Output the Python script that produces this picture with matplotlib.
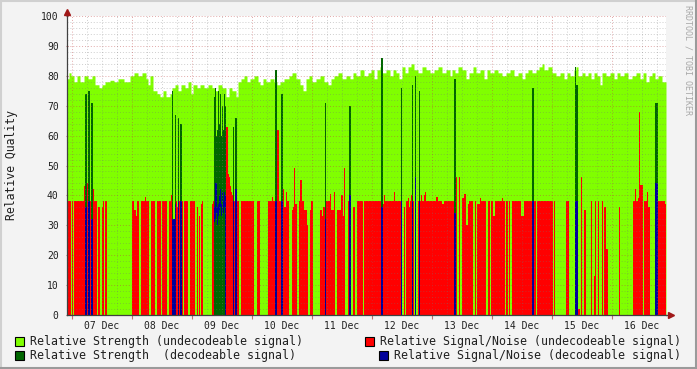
import numpy as np
import pandas as pd
import matplotlib
matplotlib.use("Agg")
import matplotlib.pyplot as plt
import matplotlib.dates as mdates
from matplotlib.patches import Rectangle
from matplotlib.lines import Line2D

nan = np.nan

# one sample every 24 minutes, first one on 6 Dec 22:00
start = "2010-12-06 22:00"
step = "24min"
n_samples = 599

# every series is a list of (sample index, value); value holds until next entry
strength_undec = [
    (0, 79), (2, 81), (4, 80), (7, 78), (10, 80), (13, 78), (17, 80), (21, 79), (25, 80), (28, 77),
    (32, 76), (35, 77), (38, 78), (43, 78.5), (47, 78), (51, 79), (57, 78), (63, 80), (67, 81), (71, 80),
    (75, 81), (79, 79), (81, 77), (83, 80), (86, 75), (90, 74), (93, 73), (96, 75), (99, 73), (103, 74),
    (105, 76), (108, 77), (111, 75), (114, 77), (118, 76), (121, 78), (124, 74), (126, 77), (130, 76), (133, 77),
    (137, 76), (141, 77), (145, 76), (148, 75), (151, 77), (155, 76), (159, 73), (162, 76), (165, 75), (169, 73),
    (171, 78), (174, 79), (177, 80), (180, 78), (183, 79), (187, 80), (191, 78), (193, 77), (196, 79), (199, 78),
    (203, 79), (207, 78), (210, 77), (213, 78), (217, 79), (222, 80), (225, 81), (229, 79), (233, 77), (236, 75),
    (239, 79), (242, 80), (245, 78), (249, 79), (253, 80), (257, 78), (261, 77), (264, 79), (267, 80), (271, 81),
    (275, 79), (279, 80), (283, 79), (286, 81), (289, 80), (293, 82), (297, 80), (301, 81), (304, 82), (307, 79),
    (310, 82), (313, 83), (315, 81), (319, 82), (323, 80), (326, 82), (329, 81), (332, 79), (335, 83), (338, 81),
    (341, 83), (344, 84), (347, 82), (351, 81), (355, 83), (359, 82), (363, 81), (367, 82), (371, 83), (375, 81),
    (379, 82), (383, 80), (385, 82), (388, 81), (391, 83), (395, 82), (399, 79), (402, 81), (406, 83), (409, 81),
    (413, 82), (417, 79), (420, 82), (423, 81), (427, 82), (431, 81), (435, 80), (439, 81), (443, 82), (447, 80),
    (451, 81), (455, 79), (458, 81), (461, 82), (465, 81), (469, 82), (472, 83), (475, 84), (477, 82), (481, 83),
    (485, 81), (489, 80), (493, 81), (497, 79), (500, 81), (503, 80), (507, 82), (509, 83), (511, 80), (515, 81),
    (518, 80), (521, 81), (524, 79), (527, 81), (530, 80), (533, 77), (535, 81), (539, 80), (543, 81), (547, 79),
    (550, 81), (553, 80), (557, 81), (561, 79), (565, 80), (569, 81), (573, 79), (576, 81), (579, 78), (582, 80),
    (585, 81), (588, 79), (591, 80), (595, 78),
]

strength_dec = [
    (0, nan), (18, 74), (20, nan), (21, 75), (23, nan), (24, 71), (26, nan),
    (105, 75), (106, nan), (108, 67), (109, nan), (111, 66), (112, nan), (113, 64), (115, nan),
    (147, 73), (148, 76), (149, 60), (150, 62), (151, 75), (152, 64), (153, 74), (154, 60), (155, 70),
    (156, 62), (157, 74), (158, 70), (159, nan), (166, 63), (167, nan), (168, 66), (170, nan),
    (208, 82), (210, nan), (214, 74), (216, nan), (258, 71), (259, nan), (282, 70), (284, nan),
    (314, 86), (316, nan), (334, 76), (335, nan), (345, 77), (346, nan), (348, 80), (349, nan),
    (352, 75), (353, nan), (387, 79), (389, nan), (465, 76), (467, nan),
    (508, 83), (509, 77), (511, nan), (588, 71), (591, nan),
]

sn_undec = [
    (0, 38), (4, nan), (5, 38), (6, nan), (7, 38), (17, 43), (18, nan), (20, 44), (21, nan), (23, 38),
    (24, nan), (26, 42), (27, 38), (30, nan), (31, 36), (33, nan), (35, 36), (36, 38), (37, nan), (38, 38),
    (40, nan), (65, 38), (67, 35), (69, 33), (70, 38), (72, nan), (74, 38), (78, 39.5), (79, 38), (82, nan),
    (84, 38), (88, nan), (90, 38), (94, nan), (95, 38), (100, nan), (102, 38), (104, 40), (105, nan), (109, 38),
    (110, 36), (111, nan), (112, 38), (113, nan), (115, 38), (116, nan), (117, 38), (121, nan), (123, 38), (128, nan),
    (130, 36), (131, nan), (132, 33), (133, nan), (134, 37), (135, 38), (136, nan), (145, 37), (146, 38), (147, nan),
    (159, 63), (161, 47), (162, 46), (163, 43), (164, 41), (165, 40), (166, nan), (167, 38), (168, nan), (170, 38),
    (172, nan), (174, 38), (187, nan), (190, 38), (193, nan), (201, 38), (205, 39.5), (206, 38), (208, nan), (210, 62),
    (212, 38), (214, nan), (216, 42), (217, 36), (219, 41), (220, 38), (222, nan), (225, 35), (226, 36), (227, 49),
    (228, 37), (230, nan), (232, 38), (233, 45), (235, 38), (237, 35), (240, 30), (241, nan), (243, 35), (244, 38),
    (246, nan), (253, 35), (255, 33), (256, 36), (258, nan), (259, 38), (263, 40.5), (264, 35), (267, 41), (268, nan),
    (270, 35), (274, 40), (276, 33), (277, 49), (278, nan), (281, 38), (282, nan), (286, 36), (288, nan), (290, 38),
    (296, nan), (297, 38), (314, nan), (316, 37), (317, 40), (318, 38), (327, 41), (328, 38), (334, nan), (337, 36),
    (338, nan), (339, 38), (341, 39), (342, 36), (343, 38), (344, 40), (345, nan), (346, 38), (347, nan), (351, 38),
    (352, nan), (353, 38), (354, 40), (355, 38), (357, 40), (358, 41), (359, 38), (369, 39.5), (371, 38), (375, 37),
    (377, 38), (387, nan), (389, 46), (390, nan), (392, 46), (393, nan), (395, 39), (397, 40.5), (399, 30), (401, 37),
    (402, 38), (406, nan), (408, 38), (409, nan), (410, 37), (413, 39), (414, 38), (419, nan), (421, 38), (423, nan),
    (424, 38), (426, 33), (428, 38), (435, 39), (436, 38), (438, nan), (439, 38), (441, nan), (442, 38), (443, nan),
    (445, 38), (454, 33), (457, 38), (465, nan), (467, 38), (469, nan), (470, 38), (486, nan), (487, 38), (488, nan),
    (499, 38), (502, nan), (511, 2), (513, nan), (514, 46), (515, nan), (517, 35), (519, nan), (524, 38), (525, nan),
    (527, 13), (528, 38), (529, nan), (531, 38), (532, nan), (535, 38), (536, nan), (537, 36), (539, 22), (541, nan),
    (552, 36), (553, nan), (566, 38), (568, 42), (569, 38), (571, 39), (572, 68), (573, 43.5), (576, nan), (577, 38),
    (580, 41), (581, 36), (583, nan), (591, 38), (598, 37),
]

sn_dec = [
    (0, nan), (18, 36), (20, nan), (21, 38), (23, nan), (24, 32), (26, nan),
    (105, 32), (108, 37), (109, nan), (111, 38), (112, nan), (113, 38), (115, nan),
    (158, 40), (159, nan), (166, 38), (167, nan), (168, 42), (170, nan),
    (208, 38), (210, nan), (214, 38), (216, nan), (258, 32), (259, nan), (282, 40), (284, nan),
    (314, 36), (316, nan), (334, 38), (335, nan), (345, 38), (346, nan), (348, 46), (349, nan),
    (352, 38), (353, nan), (387, 34), (389, nan), (465, 38), (467, nan), (508, 38), (511, nan),
    (588, 44), (591, nan),
]

# decodeable S/N inside the 9 Dec block only shows as a band
sn_dec_low = [
    (0, nan), (147, 31), (148, 32), (149, 34), (150, 30), (151, 33), (152, 35), (153, 36),
    (154, 33), (155, 38), (156, 34), (157, 36), (158, nan),
]
sn_dec_high = [
    (0, nan), (147, 36), (148, 44), (149, 44), (150, 36), (151, 37), (152, 40), (153, 42),
    (154, 37), (155, 41), (156, 38), (157, 41), (158, nan),
]

labels = [
    "Relative Strength (undecodeable signal)",
    "Relative Strength  (decodeable signal)",
    "Relative Signal/Noise (undecodeable signal)",
    "Relative Signal/Noise (decodeable signal)",
]
colors = ["#80FF00", "#006600", "#FF0000", "#00009A"]


def expand(points):
    out = np.full(n_samples, nan)
    for k, (i, v) in enumerate(points):
        j = points[k + 1][0] if k + 1 < len(points) else n_samples
        out[i:j] = v
    return out


W, H = 697, 369
fig = plt.figure(figsize=(W / 100, H / 100), dpi=100)
fig.patch.set_facecolor("#F3F3F3")
ax = fig.add_axes([67 / W, 54 / H, 599 / W, 299 / H])
ax.set_facecolor("white")

edges = mdates.date2num(pd.date_range(start, periods=n_samples + 1, freq=step))
xs = np.column_stack([edges[:-1], edges[1:]]).ravel()


def area(vals, color, lo=None):
    ys = np.repeat(vals, 2)
    base = 0 if lo is None else np.repeat(lo, 2)
    ax.fill_between(xs, base, ys, color=color, lw=0, zorder=2)


area(expand(strength_undec), colors[0])
area(expand(strength_dec), colors[1])
area(expand(sn_undec), colors[2])
area(expand(sn_dec), colors[3])
area(expand(sn_dec_high), colors[3], lo=expand(sn_dec_low))

ax.set_xlim(edges[0], edges[-1])
ax.set_ylim(0, 100)

# grid drawn over the data, rrdtool style
minor_c = (0.45, 0.45, 0.45, 0.35)
major_c = (0.75, 0.25, 0.25, 0.45)
for y in range(2, 101, 2):
    c = major_c if y % 10 == 0 else minor_c
    ax.axhline(y, color=c, lw=0.7, ls=(0, (1, 2)), zorder=5)
for t in pd.date_range("2010-12-07 00:00", "2010-12-16 18:00", freq="6h"):
    c = major_c if t.hour == 0 else minor_c
    ax.axvline(mdates.date2num(t), color=c, lw=0.7, ls=(0, (1, 2)), zorder=5)

mono = "DejaVu Sans Mono"
for s in ["top", "right"]:
    ax.spines[s].set_visible(False)
for s in ["left", "bottom"]:
    ax.spines[s].set_color("#404040")
    ax.spines[s].set_linewidth(0.9)
    ax.spines[s].set_zorder(6)

ax.set_yticks(range(0, 101, 10))
ax.tick_params(axis="y", length=2, direction="inout", color="#C07070", pad=5,
               labelsize=7, labelcolor="#202020")
ax.xaxis.set_major_locator(mdates.DayLocator())
ax.xaxis.set_major_formatter(plt.NullFormatter())
ax.xaxis.set_minor_locator(mdates.HourLocator(byhour=[12]))
ax.xaxis.set_minor_formatter(mdates.DateFormatter("%d %b"))
ax.tick_params(axis="x", which="major", length=3, direction="out", color="#C07070")
ax.tick_params(axis="x", which="minor", length=0, pad=4.5, labelsize=7, labelcolor="#202020")
for lab in ax.get_xticklabels(minor=True) + ax.get_yticklabels():
    lab.set_family(mono)

# axis arrows, just past the ends of the axes
ax.plot([0], [1 + 4 / 299], marker="^", ms=4, color="#A01818", transform=ax.transAxes,
        clip_on=False, zorder=7)
ax.plot([1 + 5 / 599], [0], marker=">", ms=4, color="#A01818", transform=ax.transAxes,
        clip_on=False, zorder=7)
ax.plot([0, 0], [1, 1 + 4 / 299], color="#404040", lw=0.9, transform=ax.transAxes, clip_on=False, zorder=6)
ax.plot([1, 1 + 5 / 599], [0, 0], color="#404040", lw=0.9, transform=ax.transAxes, clip_on=False, zorder=6)
ax.set_xlim(edges[0], edges[-1])

fig.text(12 / W, 1 - 165 / H, "Relative Quality", rotation=90, family=mono, size=8.3,
         ha="center", va="center", color="#202020")
fig.text(688 / W, 1 - 60 / H, "RRDTOOL / TOBI OETIKER", rotation=270, family=mono, size=6,
         ha="center", va="center", color="#A8A8A8")

# legend
legend_pos = [(15, 341), (15, 355), (365, 341), (379, 355)]
for (lx, ly), lab, col in zip(legend_pos, labels, colors):
    fig.patches.append(Rectangle((lx / W, 1 - (ly + 4.5) / H), 9 / W, 9 / H, facecolor=col,
                                 edgecolor="black", lw=0.8, transform=fig.transFigure))
    fig.text((lx + 15) / W, 1 - ly / H, lab, family=mono, size=8.35, ha="left", va="center",
             color="#202020")

# 3d frame around the image
fig.add_artist(Line2D([0, 1], [1 - 0.5 / H, 1 - 0.5 / H], color="#D0D0D0", lw=1.5, transform=fig.transFigure))
fig.add_artist(Line2D([0.5 / W, 0.5 / W], [0, 1], color="#D0D0D0", lw=1.5, transform=fig.transFigure))
fig.add_artist(Line2D([0, 1], [1 / H, 1 / H], color="#9A9A9A", lw=1.5, transform=fig.transFigure))
fig.add_artist(Line2D([1 - 1 / W, 1 - 1 / W], [0, 1], color="#9A9A9A", lw=1.5, transform=fig.transFigure))

fig.savefig("out.png", dpi=100, facecolor=fig.get_facecolor())
